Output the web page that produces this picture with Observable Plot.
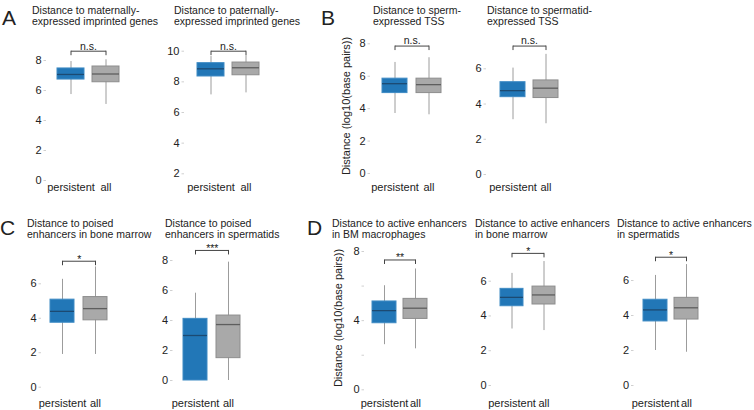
<!DOCTYPE html>
<html><head><meta charset="utf-8">
<script src="https://cdn.jsdelivr.net/npm/d3@7"></script>
<script src="https://cdn.jsdelivr.net/npm/@observablehq/plot@0.6"></script>
<style>
html,body{margin:0;padding:0;background:#fff;}
#fig{position:relative;width:754px;height:410px;overflow:hidden;font-family:"Liberation Sans",Arial,sans-serif;color:#222;}
.title{position:absolute;font-size:10.5px;line-height:11px;white-space:pre;}
.letter{position:absolute;font-size:21px;line-height:21px;}
.ylab{position:absolute;font-size:11px;white-space:nowrap;transform:translate(-50%,-50%) rotate(-90deg);}
#fig svg{position:absolute;left:0;top:0;}
</style></head><body><div id="fig"></div>
<script>
// ---------- data ----------
const groups = ["persistent", "all"];
const panelIds = ["A1", "A2", "B1", "B2", "C1", "C2", "D1", "D2", "D3"];
const titles = [
  "Distance to maternally-\nexpressed imprinted genes",
  "Distance to paternally-\nexpressed imprinted genes",
  "Distance to sperm-\nexpressed TSS",
  "Distance to spermatid-\nexpressed TSS",
  "Distance to poised\nenhancers in bone marrow",
  "Distance to poised\nenhancers in spermatids",
  "Distance to active enhancers\nin BM macrophages",
  "Distance to active enhancers\nin bone marrow",
  "Distance to active enhancers\nin spermatids"
];
// [lower whisker, Q1, median, Q3, upper whisker]
const persistentStats = [
  [5.73, 6.73, 7.07, 7.47, 7.93],
  [7.15, 8.35, 8.85, 9.22, 9.65],
  [3.70, 4.96, 5.54, 5.85, 6.85],
  [3.11, 4.39, 4.76, 5.24, 6.04],
  [1.90, 3.74, 4.40, 5.08, 6.26],
  [0.00, 0.00, 3.00, 4.11, 5.82],
  [2.61, 3.85, 4.58, 5.11, 6.02],
  [3.25, 4.56, 5.07, 5.56, 6.45],
  [2.00, 3.66, 4.32, 4.90, 6.29]
];
const allStats = [
  [5.07, 6.55, 7.10, 7.60, 8.05],
  [7.28, 8.43, 8.92, 9.26, 9.70],
  [3.62, 4.96, 5.48, 5.85, 7.14],
  [2.88, 4.34, 4.90, 5.34, 6.82],
  [1.90, 3.88, 4.56, 5.23, 6.98],
  [0.00, 1.49, 3.73, 4.33, 7.89],
  [2.37, 4.10, 4.72, 5.26, 6.99],
  [3.16, 4.66, 5.21, 5.69, 7.13],
  [1.90, 3.77, 4.44, 5.01, 6.91]
];
const bracketLevels = [8.62, 10.0, 7.86, 7.29, 7.31, 8.67, 7.51, 7.60, 7.33];
const sigLabels = ["n.s.", "n.s.", "n.s.", "n.s.", "*", "***", "**", "*", "*"];
const yDomains = [[0, 8], [2, 10], [0, 8], [0, 6], [0, 6], [0, 8], [0, 8], [0, 6], [0, 6]];
const yTicks = [[0,2,4,6,8],[2,4,6,8,10],[0,2,4,6,8],[0,2,4,6],[0,2,4,6],[0,2,4,6,8],[0,2,4,6,8],[0,2,4,6],[0,2,4,6]];
const yTickLabels = [[0,2,4,6,8],[2,4,6,8,10],[0,2,4,6,8],[0,2,4,6],[0,2,4,6],[0,2,4,6,8],[0,4,8],[0,2,4,6],[0,2,4,6]];
const panelLetters = ["A", "B", "C", "D"];
const yAxisTitle = "Distance (log10(base pairs))";

// ---------- layout (pixels) ----------
const layout = [
  {row: 0, yRange: [180, 60],     axisAt: 46,    centers: [70.5, 105.5],  boxW: 27,   titleX: 32},
  {row: 0, yRange: [173.3, 50.7], axisAt: 184,   centers: [210.5, 245.5], boxW: 27,   titleX: 174},
  {row: 0, yRange: [173, 43.3],   axisAt: 370,   centers: [394.5, 429],   boxW: 25.5, titleX: 373},
  {row: 0, yRange: [174, 68.3],   axisAt: 486,   centers: [512.5, 545.5], boxW: 25,   titleX: 487},
  {row: 1, yRange: [386.7, 283.3],axisAt: 41,    centers: [62, 95.5],     boxW: 24.5, titleX: 27},
  {row: 1, yRange: [380, 260],    axisAt: 172.5, centers: [194.7, 228.3], boxW: 24,   titleX: 165},
  {row: 1, yRange: [389.3, 251],  axisAt: 364,   centers: [384, 415],     boxW: 24,   titleX: 332},
  {row: 1, yRange: [385, 280.7],  axisAt: 491,   centers: [511, 543.5],   boxW: 23.5, titleX: 475},
  {row: 1, yRange: [385, 280],    axisAt: 633.5, centers: [654.7, 686],   boxW: 24,   titleX: 617}
];
const rowFrameBottom = [183, 399];
const rowTitleTop = [5.2, 217.8];
const letterPos = [{x: 2, y: 7.2}, {x: 321, y: 7.2}, {x: 0, y: 217}, {x: 307, y: 217}];
const yTitlePos = [{x: 346, y: 106}, {x: 338, y: 317.5}];
const bracketDropPx = 4.5;

const style = {
  persistent: {fill: "#2277b7", stroke: "#3f8bc4", median: "#1c4a72"},
  all: {fill: "#a9a9a9", stroke: "#8d8d8d", median: "#5e5e5e"}
};
const font = '"Liberation Sans", Arial, sans-serif';

const fig = document.getElementById("fig");

panelIds.forEach((id, i) => {
  const L = layout[i];
  const rows = groups.map((g, j) => {
    const s = (j === 0 ? persistentStats : allStats)[i];
    return {group: g, lo: s[0], q1: s[1], med: s[2], q3: s[3], hi: s[4]};
  });
  const step = L.centers[1] - L.centers[0];
  const pIn = 1 - L.boxW / step;
  const [d0, d1] = yDomains[i];
  const pxPerUnit = (L.yRange[0] - L.yRange[1]) / (d1 - d0);
  const drop = bracketDropPx / pxPerUnit;
  const b = bracketLevels[i];
  const sig = sigLabels[i];

  const boxMarks = groups.flatMap(g => {
    const r = rows.filter(d => d.group === g);
    const st = style[g];
    return [
      Plot.ruleX(r, {x: "group", y1: "lo", y2: "hi", stroke: "#9c9c9c", strokeWidth: 1}),
      Plot.barY(r, {x: "group", y1: "q1", y2: "q3", fill: st.fill, stroke: st.stroke, strokeWidth: 1}),
      Plot.tickY(r, {x: "group", y: "med", stroke: st.median, strokeWidth: 1.3})
    ];
  });

  const chart = Plot.plot({
    width: 754, height: 410,
    marginLeft: L.axisAt, marginRight: 0, marginTop: 0,
    marginBottom: 410 - rowFrameBottom[L.row],
    style: {background: "transparent", fontFamily: font, fontSize: "11px", color: "#222", overflow: "visible"},
    x: {type: "band", domain: groups, range: [L.centers[0] - step / 2, L.centers[1] + step / 2],
        paddingInner: pIn, paddingOuter: pIn / 2, align: 0.5},
    y: {domain: [d0, d1], range: L.yRange},
    marks: [
      Plot.axisY({ticks: yTicks[i], tickSize: 2.5, tickPadding: 2.5, stroke: "#d0d0d0", label: null, fontSize: 11,
                  tickFormat: d => yTickLabels[i].includes(d) ? String(d) : ""}),
      Plot.axisX({tickSize: 0, tickPadding: 0, label: null, fontSize: 11}),
      ...boxMarks,
      Plot.link([b], {x1: () => groups[0], x2: () => groups[1], y1: d => d, y2: d => d, stroke: "#444", strokeWidth: 1}),
      Plot.ruleX(groups, {x: d => d, y1: b, y2: b - drop, stroke: "#444", strokeWidth: 1}),
      Plot.text([sig], {x: () => groups[0], y: () => b, text: d => d, dx: step / 2,
                        dy: sig === "n.s." ? -5 : -2, fontSize: 10.5, fill: "#222"})
    ]
  });
  fig.appendChild(chart);

  const t = document.createElement("div");
  t.className = "title";
  t.style.left = L.titleX + "px";
  t.style.top = rowTitleTop[L.row] + "px";
  t.textContent = titles[i];
  fig.appendChild(t);
});

panelLetters.forEach((l, k) => {
  const d = document.createElement("div");
  d.className = "letter";
  d.style.left = letterPos[k].x + "px";
  d.style.top = letterPos[k].y + "px";
  d.textContent = l;
  fig.appendChild(d);
});

yTitlePos.forEach(p => {
  const d = document.createElement("div");
  d.className = "ylab";
  d.style.left = p.x + "px";
  d.style.top = p.y + "px";
  d.textContent = yAxisTitle;
  fig.appendChild(d);
});
</script>
</body></html>
